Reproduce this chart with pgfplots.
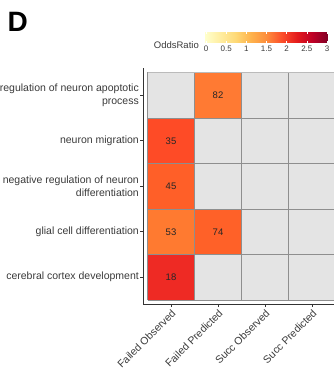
\documentclass[border=0pt]{standalone}
\usepackage{pgfplots}
\pgfplotsset{compat=1.18}
\usepackage{fontspec}
\setmainfont{Liberation Sans}
\definecolor{cellgray}{HTML}{E4E4E4}
\definecolor{gridgray}{HTML}{8E8E8E}
\definecolor{axisgray}{HTML}{333333}
\definecolor{labgray}{HTML}{3A3A3A}
\definecolor{cA}{HTML}{FF7A33}% 82
\definecolor{cB}{HTML}{FE4B26}% 35
\definecolor{cC}{HTML}{FF5F28}% 45
\definecolor{cD}{HTML}{FF7A30}% 53
\definecolor{cE}{HTML}{FF6128}% 74
\definecolor{cF}{HTML}{EE2A24}% 18
\pgfplotstableread{
x y label
2 5 82
1 4 35
1 3 45
1 2 53
2 2 74
1 1 18
}\countdata
\begin{document}
\begin{tikzpicture}
\useasboundingbox (0,0) rectangle (334bp,369bp);
\clip (0,0) rectangle (334bp,369bp);
\node[anchor=north west, inner sep=0pt, font=\fontsize{28bp}{30bp}\selectfont\bfseries] at (7.5bp,357bp) {D};
\node[anchor=east, inner sep=0pt, text=labgray, font=\fontsize{9.5bp}{11bp}\selectfont] at (199bp,324bp) {OddsRatio};
% main heatmap
\begin{axis}[
  at={(143bp,65bp)}, anchor=south west,
  scale only axis, width=197.2bp, height=235.5bp,
  xmin=0.404, xmax=4.6, ymin=0.412, ymax=5.588,
  axis x line*=bottom, axis y line*=left,
  axis line style={draw=axisgray, line width=0.6bp, -},
  xtick={1,2,3,4},
  xticklabels={Failed Observed, Failed Predicted, Succ Observed, Succ Predicted},
  ytick={1,2,3,4,5},
  yticklabels={cerebral cortex development, glial cell differentiation, {negative regulation of neuron\\differentiation}, neuron migration, {regulation of neuron apoptotic\\process}},
  tick align=outside, major tick length=3bp,
  tick style={draw=axisgray, line width=0.6bp},
  x tick label style={rotate=45, anchor=north east, inner sep=1bp, text=labgray, font=\fontsize{10.5bp}{12.5bp}\selectfont},
  y tick label style={align=right, inner sep=1bp, text=labgray, font=\fontsize{10.5bp}{12.5bp}\selectfont},
  clip=false,
]
\addplot[fill=cellgray, draw=none] coordinates {(0.5,0.5) (4.5,0.5) (4.5,5.5) (0.5,5.5)} -- cycle;
\addplot[fill=cA, draw=none] coordinates {(1.5,4.5) (2.5,4.5) (2.5,5.5) (1.5,5.5)} -- cycle;
\addplot[fill=cB, draw=none] coordinates {(0.5,3.5) (1.5,3.5) (1.5,4.5) (0.5,4.5)} -- cycle;
\addplot[fill=cC, draw=none] coordinates {(0.5,2.5) (1.5,2.5) (1.5,3.5) (0.5,3.5)} -- cycle;
\addplot[fill=cD, draw=none] coordinates {(0.5,1.5) (1.5,1.5) (1.5,2.5) (0.5,2.5)} -- cycle;
\addplot[fill=cE, draw=none] coordinates {(1.5,1.5) (2.5,1.5) (2.5,2.5) (1.5,2.5)} -- cycle;
\addplot[fill=cF, draw=none] coordinates {(0.5,0.5) (1.5,0.5) (1.5,1.5) (0.5,1.5)} -- cycle;
% tile borders
\addplot[gridgray, line width=0.6bp] coordinates {(0.5,0.5) (0.5,5.5)};
\addplot[gridgray, line width=0.6bp] coordinates {(1.5,0.5) (1.5,5.5)};
\addplot[gridgray, line width=0.6bp] coordinates {(2.5,0.5) (2.5,5.5)};
\addplot[gridgray, line width=0.6bp] coordinates {(3.5,0.5) (3.5,5.5)};
\addplot[gridgray, line width=0.6bp] coordinates {(4.5,0.5) (4.5,5.5)};
\addplot[gridgray, line width=0.6bp] coordinates {(0.5,0.5) (4.5,0.5)};
\addplot[gridgray, line width=0.6bp] coordinates {(0.5,1.5) (4.5,1.5)};
\addplot[gridgray, line width=0.6bp] coordinates {(0.5,2.5) (4.5,2.5)};
\addplot[gridgray, line width=0.6bp] coordinates {(0.5,3.5) (4.5,3.5)};
\addplot[gridgray, line width=0.6bp] coordinates {(0.5,4.5) (4.5,4.5)};
\addplot[gridgray!60, line width=0.6bp] coordinates {(0.5,5.5) (4.5,5.5)};
% counts
\addplot[draw=none, mark=none, nodes near coords, point meta=explicit symbolic,
  every node near coord/.style={anchor=center, inner sep=0pt, text=black!85, font=\fontsize{9.5bp}{11bp}\selectfont}]
  table[x=x, y=y, meta=label] {\countdata};
\end{axis}
% colour bar
\begin{axis}[
  at={(205bp,326bp)}, anchor=south west,
  scale only axis, width=123bp, height=11bp,
  xmin=-0.025, xmax=3.025, ymin=0, ymax=1,
  axis line style={draw=none},
  colormap={ylorrd}{rgb255=(255,255,204) rgb255=(255,237,160) rgb255=(254,217,118) rgb255=(254,178,76) rgb255=(253,141,60) rgb255=(252,78,42) rgb255=(227,26,28) rgb255=(189,0,38) rgb255=(128,0,38)},
  point meta min=0, point meta max=3,
  xtick={0,0.5,1,1.5,2,2.5,3},
  xticklabels={0,0.5,1,1.5,2,2.5,3},
  ytick=\empty,
  xtick pos=both, xticklabel pos=bottom,
  tick align=inside, major tick length=2.2bp,
  tick style={draw=white, line width=0.5bp},
  x tick label style={inner sep=1bp, yshift=-1.5bp, text=labgray, font=\fontsize{8bp}{9bp}\selectfont},
  axis on top,
]
\addplot[patch, patch type=rectangle, shader=interp, point meta=x] coordinates {(-0.025,0) (3.025,0) (3.025,1) (-0.025,1)};
\end{axis}
\end{tikzpicture}
\end{document}
